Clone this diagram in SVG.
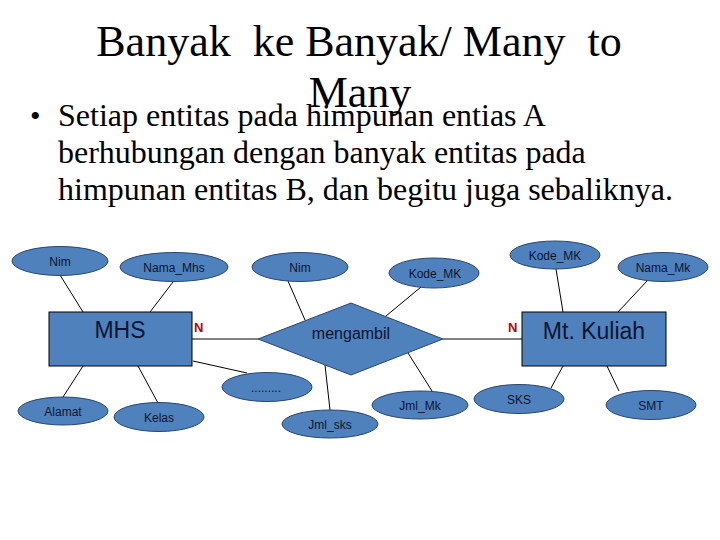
<svg xmlns="http://www.w3.org/2000/svg" width="720" height="540" viewBox="0 0 720 540">
<style>
.attr{fill:#4f81bd;stroke:#2a4670;stroke-width:1}
.ent{fill:#4f81bd;stroke:#000;stroke-width:1}
.at{font-family:"Liberation Sans",Arial,sans-serif;font-size:12px;fill:#0b1530;text-anchor:middle}
.et{font-family:"Liberation Sans",Arial,sans-serif;font-size:23px;fill:#0b1530;text-anchor:middle}
.card{font-family:"Liberation Sans",Arial,sans-serif;font-size:13px;font-weight:bold;fill:#c00000}
.ttl{font-family:"Liberation Serif","Times New Roman",serif;fill:#000;white-space:pre}
.conn line{stroke:#000;stroke-width:1}
</style>
<rect width="720" height="540" fill="#fff"/>
<text class="ttl" x="359" y="56" font-size="44" text-anchor="middle" xml:space="preserve">Banyak  ke Banyak/ Many  to</text>
<text class="ttl" x="360" y="107" font-size="44" text-anchor="middle">Many</text>
<text class="ttl" x="30" y="126" font-size="30">•</text>
<text class="ttl" x="58" y="126" font-size="32">Setiap entitas pada himpunan entias A</text>
<text class="ttl" x="58" y="163" font-size="32">berhubungan dengan banyak entitas pada</text>
<text class="ttl" x="58" y="200" font-size="32">himpunan entitas B, dan begitu juga sebaliknya.</text>
<g class="conn" id="connectors">
<line x1="60" y1="275" x2="83" y2="312"/>
<line x1="173" y1="282" x2="150" y2="312"/>
<line x1="83" y1="366" x2="63" y2="397"/>
<line x1="138" y1="366" x2="158" y2="403"/>
<line x1="193" y1="361" x2="247" y2="373"/>
<line x1="192" y1="339" x2="258" y2="339"/>
<line x1="288" y1="281" x2="305" y2="320"/>
<line x1="325" y1="365" x2="330" y2="410"/>
<line x1="421" y1="287" x2="386" y2="316"/>
<line x1="408" y1="353" x2="432" y2="391"/>
<line x1="443" y1="339" x2="522" y2="339"/>
<line x1="556" y1="269" x2="563" y2="312"/>
<line x1="647" y1="281" x2="618" y2="312"/>
<line x1="563" y1="366" x2="551" y2="388"/>
<line x1="607" y1="366" x2="619" y2="391"/>
</g>
<g id="nim1"><ellipse class="attr" cx="60" cy="261" rx="48" ry="14.5"/><text class="at" x="60" y="266">Nim</text></g>
<g id="nama_mhs"><ellipse class="attr" cx="174" cy="267" rx="54" ry="14.5"/><text class="at" x="174" y="272">Nama_Mhs</text></g>
<g id="nim2"><ellipse class="attr" cx="300" cy="267" rx="48" ry="14.5"/><text class="at" x="300" y="272">Nim</text></g>
<g id="kode_mk1"><ellipse class="attr" cx="434" cy="273" rx="45" ry="15"/><text class="at" x="435" y="278">Kode_MK</text></g>
<g id="kode_mk2"><ellipse class="attr" cx="555" cy="255" rx="45" ry="14"/><text class="at" x="555" y="260">Kode_MK</text></g>
<g id="nama_mk"><ellipse class="attr" cx="663" cy="267" rx="45" ry="14.5"/><text class="at" x="663" y="272">Nama_Mk</text></g>
<g id="dots"><ellipse class="attr" cx="267" cy="387" rx="45" ry="14.5"/><text class="at" x="266" y="392">.........</text></g>
<g id="alamat"><ellipse class="attr" cx="63" cy="411" rx="45" ry="14"/><text class="at" x="63" y="416">Alamat</text></g>
<g id="kelas"><ellipse class="attr" cx="159" cy="417" rx="45" ry="14.5"/><text class="at" x="159" y="422">Kelas</text></g>
<g id="jml_sks"><ellipse class="attr" cx="330" cy="424" rx="48" ry="14"/><text class="at" x="330" y="429">Jml_sks</text></g>
<g id="jml_mk"><ellipse class="attr" cx="420" cy="405" rx="48" ry="14"/><text class="at" x="420" y="410">Jml_Mk</text></g>
<g id="sks"><ellipse class="attr" cx="519" cy="399" rx="45" ry="14.5"/><text class="at" x="519" y="404">SKS</text></g>
<g id="smt"><ellipse class="attr" cx="651" cy="405" rx="45" ry="14.5"/><text class="at" x="651" y="410">SMT</text></g>
<g id="mhs"><rect class="ent" x="49" y="312" width="143" height="54"/><text class="et" x="120" y="338">MHS</text></g>
<g id="mtkuliah"><rect class="ent" x="522" y="312" width="144" height="54"/><text class="et" x="594" y="339">Mt. Kuliah</text></g>
<g id="mengambil"><polygon class="attr" points="258,339 351,303 443,339 351,375"/><text class="at" x="351" y="339" style="font-size:16px">mengambil</text></g>
<text class="card" x="194" y="332">N</text>
<text class="card" x="508" y="332">N</text>
</svg>
